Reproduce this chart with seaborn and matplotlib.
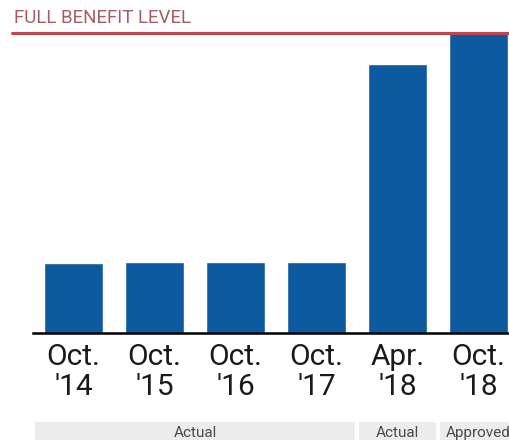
import matplotlib
matplotlib.use("Agg")
import matplotlib.pyplot as plt
import seaborn as sns
import pandas as pd
from matplotlib.patches import Rectangle
import matplotlib.transforms as mtransforms

categories = ["Oct.\n'14", "Oct.\n'15", "Oct.\n'16", "Oct.\n'17", "Apr.\n'18", "Oct.\n'18"]
values = [0.233, 0.237, 0.237, 0.237, 0.897, 1.0]
full_benefit = 1.0
band_labels = ["Actual", "Actual", "Approved"]
band_spans = [(0, 3), (4, 4), (5, 5)]

sns.set_theme(style="white")
plt.rcParams['font.family'] = ['Roboto', 'DejaVu Sans']

W, H = 510, 440
fig = plt.figure(figsize=(W / 100, H / 100), dpi=100)
ax = fig.add_axes([33 / W, 107 / H, 477 / W, 300 / H])
ax.patch.set_alpha(0)

df = pd.DataFrame({"cat": categories, "val": values})
sns.barplot(data=df, x="cat", y="val", order=categories, color="#0e5aa0",
            saturation=1, width=0.73, ax=ax)

ax.set_xlim(-0.5, 5.389)
ax.set_ylim(0, 1.0)
ax.set_xlabel("")
ax.set_ylabel("")
ax.set_yticks([])
for s in ["left", "right", "top"]:
    ax.spines[s].set_visible(False)
ax.spines["bottom"].set_color("black")
ax.spines["bottom"].set_linewidth(1.8)
ax.tick_params(axis="x", length=0, pad=7, labelsize=21.5, labelcolor="#1a1a1a")
for lbl in ax.get_xticklabels():
    lbl.set_linespacing(1.1)

# full benefit reference line
ax.axhline(full_benefit, xmin=-21 / 477, xmax=1, color="#c0454d", lw=2.2,
           clip_on=False, zorder=5)
fig.text(14 / W, 1 - 18 / H, "FULL BENEFIT LEVEL", color="#a65c66", fontsize=13.5,
         va="center", ha="left")

# bottom bands
trans = mtransforms.blended_transform_factory(ax.transData, ax.transAxes)
y0 = -107 / 300
y1 = (18 - 107) / 300
for lab, (a, b) in zip(band_labels, band_spans):
    x0 = a - 0.475
    x1 = b + 0.475
    ax.add_patch(Rectangle((x0, y0), x1 - x0, y1 - y0, transform=trans,
                           facecolor="#ececec", edgecolor="none", clip_on=False))
    ax.text((x0 + x1) / 2, (y0 + y1) / 2 - 0.005, lab, transform=trans,
            ha="center", va="center", fontsize=11, color="#4a4a4a", clip_on=False)

fig.savefig("out.png", dpi=100)
